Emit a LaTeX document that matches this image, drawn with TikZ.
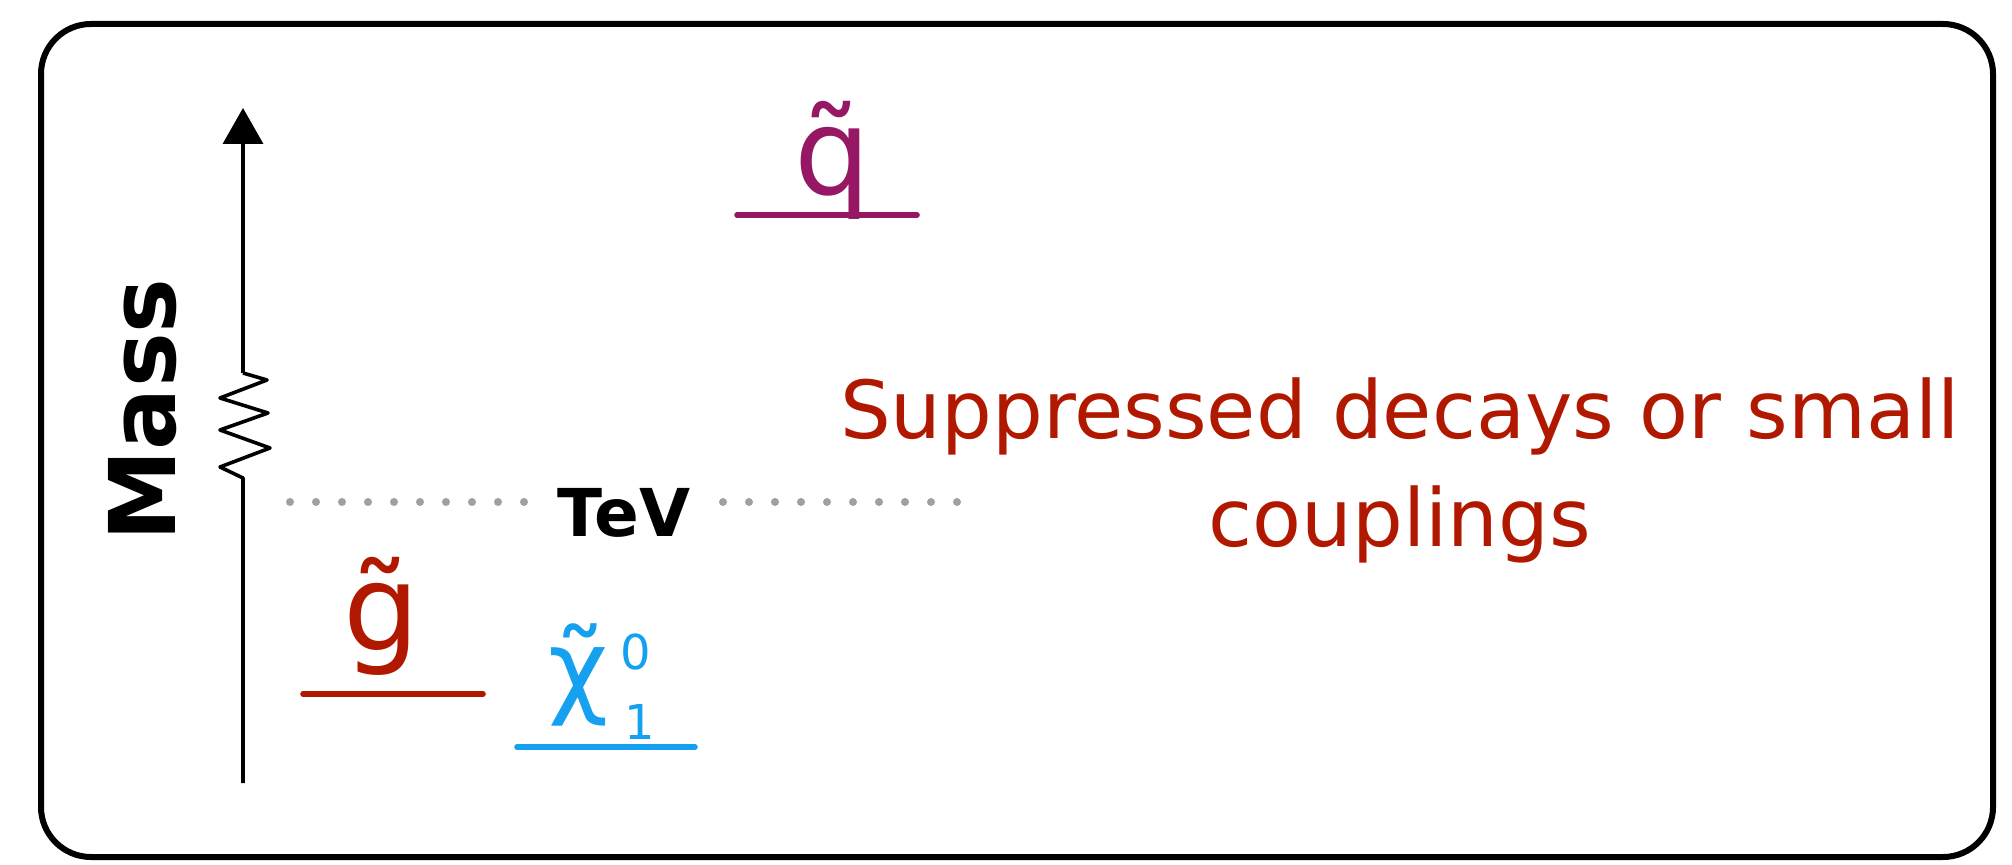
\documentclass[tikz,border=0pt]{standalone}
\usepackage{fontspec}
\setmainfont{DejaVu Sans}
\usetikzlibrary{arrows.meta}
\definecolor{redtxt}{RGB}{176,24,0}
\definecolor{purp}{RGB}{150,24,100}
\definecolor{bluep}{RGB}{22,160,240}
\definecolor{dotgray}{RGB}{160,160,160}
\begin{document}
\begin{tikzpicture}[x=0.5pt,y=-0.5pt,
  frame/.style={line width=3pt, rounded corners=25pt},
  axisline/.style={line width=1.8pt, line join=round},
  level/.style={line width=2.8pt, line cap=round},
  dotrow/.style={dotgray, line width=4pt, line cap=round, dash pattern=on 0pt off 13pt},
  masslabel/.style={rotate=90, font=\bfseries\fontsize{46}{50}\selectfont},
  tevlabel/.style={font=\bfseries\fontsize{33}{36}\selectfont, anchor=base},
  partbig/.style={font=\fontsize{60}{60}\selectfont, anchor=base, inner sep=0pt},
  partsmall/.style={font=\fontsize{24}{24}\selectfont, inner sep=0pt},
  note/.style={align=center, text=redtxt, font=\fontsize{40}{54}\selectfont}]
\useasboundingbox (0,0) rectangle (2012,865);
\fill[white] (0,0) rectangle (2012,865);
\draw[frame] (41,24) rectangle (1993,857);

% axis with break
\coordinate (axbot) at (243,783);
\coordinate (zzlo) at (243,478);
\coordinate (zzhi) at (243,373);
\coordinate (axtop) at (243,108);
\draw[axisline] (axbot) -- (zzlo) -- (220,467) -- (270,448) -- (220,430) -- (268,413) -- (220,398) -- (267,380) -- (zzhi);
\draw[axisline, -{Triangle[length=18pt,width=20pt]}] (zzhi) -- (axtop);

\node[masslabel] (mass) at (143,410) {Mass};

% TeV line
\node[tevlabel] (tev) at (624,537) {TeV};
\coordinate (dl1) at (290,502);
\coordinate (dl2) at (528,502);
\coordinate (dr1) at (723,502);
\coordinate (dr2) at (960,502);
\draw[dotrow] (dl1) -- (dl2);
\draw[dotrow] (dr1) -- (dr2);

% squark
\node[partbig, text=purp] (sq) at (833,195) {\~{q}};
\draw[level, purp] (737,215) -- (917,215);

% gluino
\node[partbig, text=redtxt] (gl) at (382,650) {\~{g}};
\draw[level, redtxt] (303,694) -- (483,694);

% neutralino
\node[partbig, text=bluep, font=\fontsize{52}{52}\selectfont] (chi) at (579,704) {\~{χ}};
\node[partsmall, text=bluep] (chisup) at (636,652) {0};
\node[partsmall, text=bluep] (chisub) at (640,722) {1};
\draw[level, bluep] (517,747) -- (695,747);

\node[note] (supp) at (1400,470) {Suppressed decays or small\\couplings};
\end{tikzpicture}
\end{document}
